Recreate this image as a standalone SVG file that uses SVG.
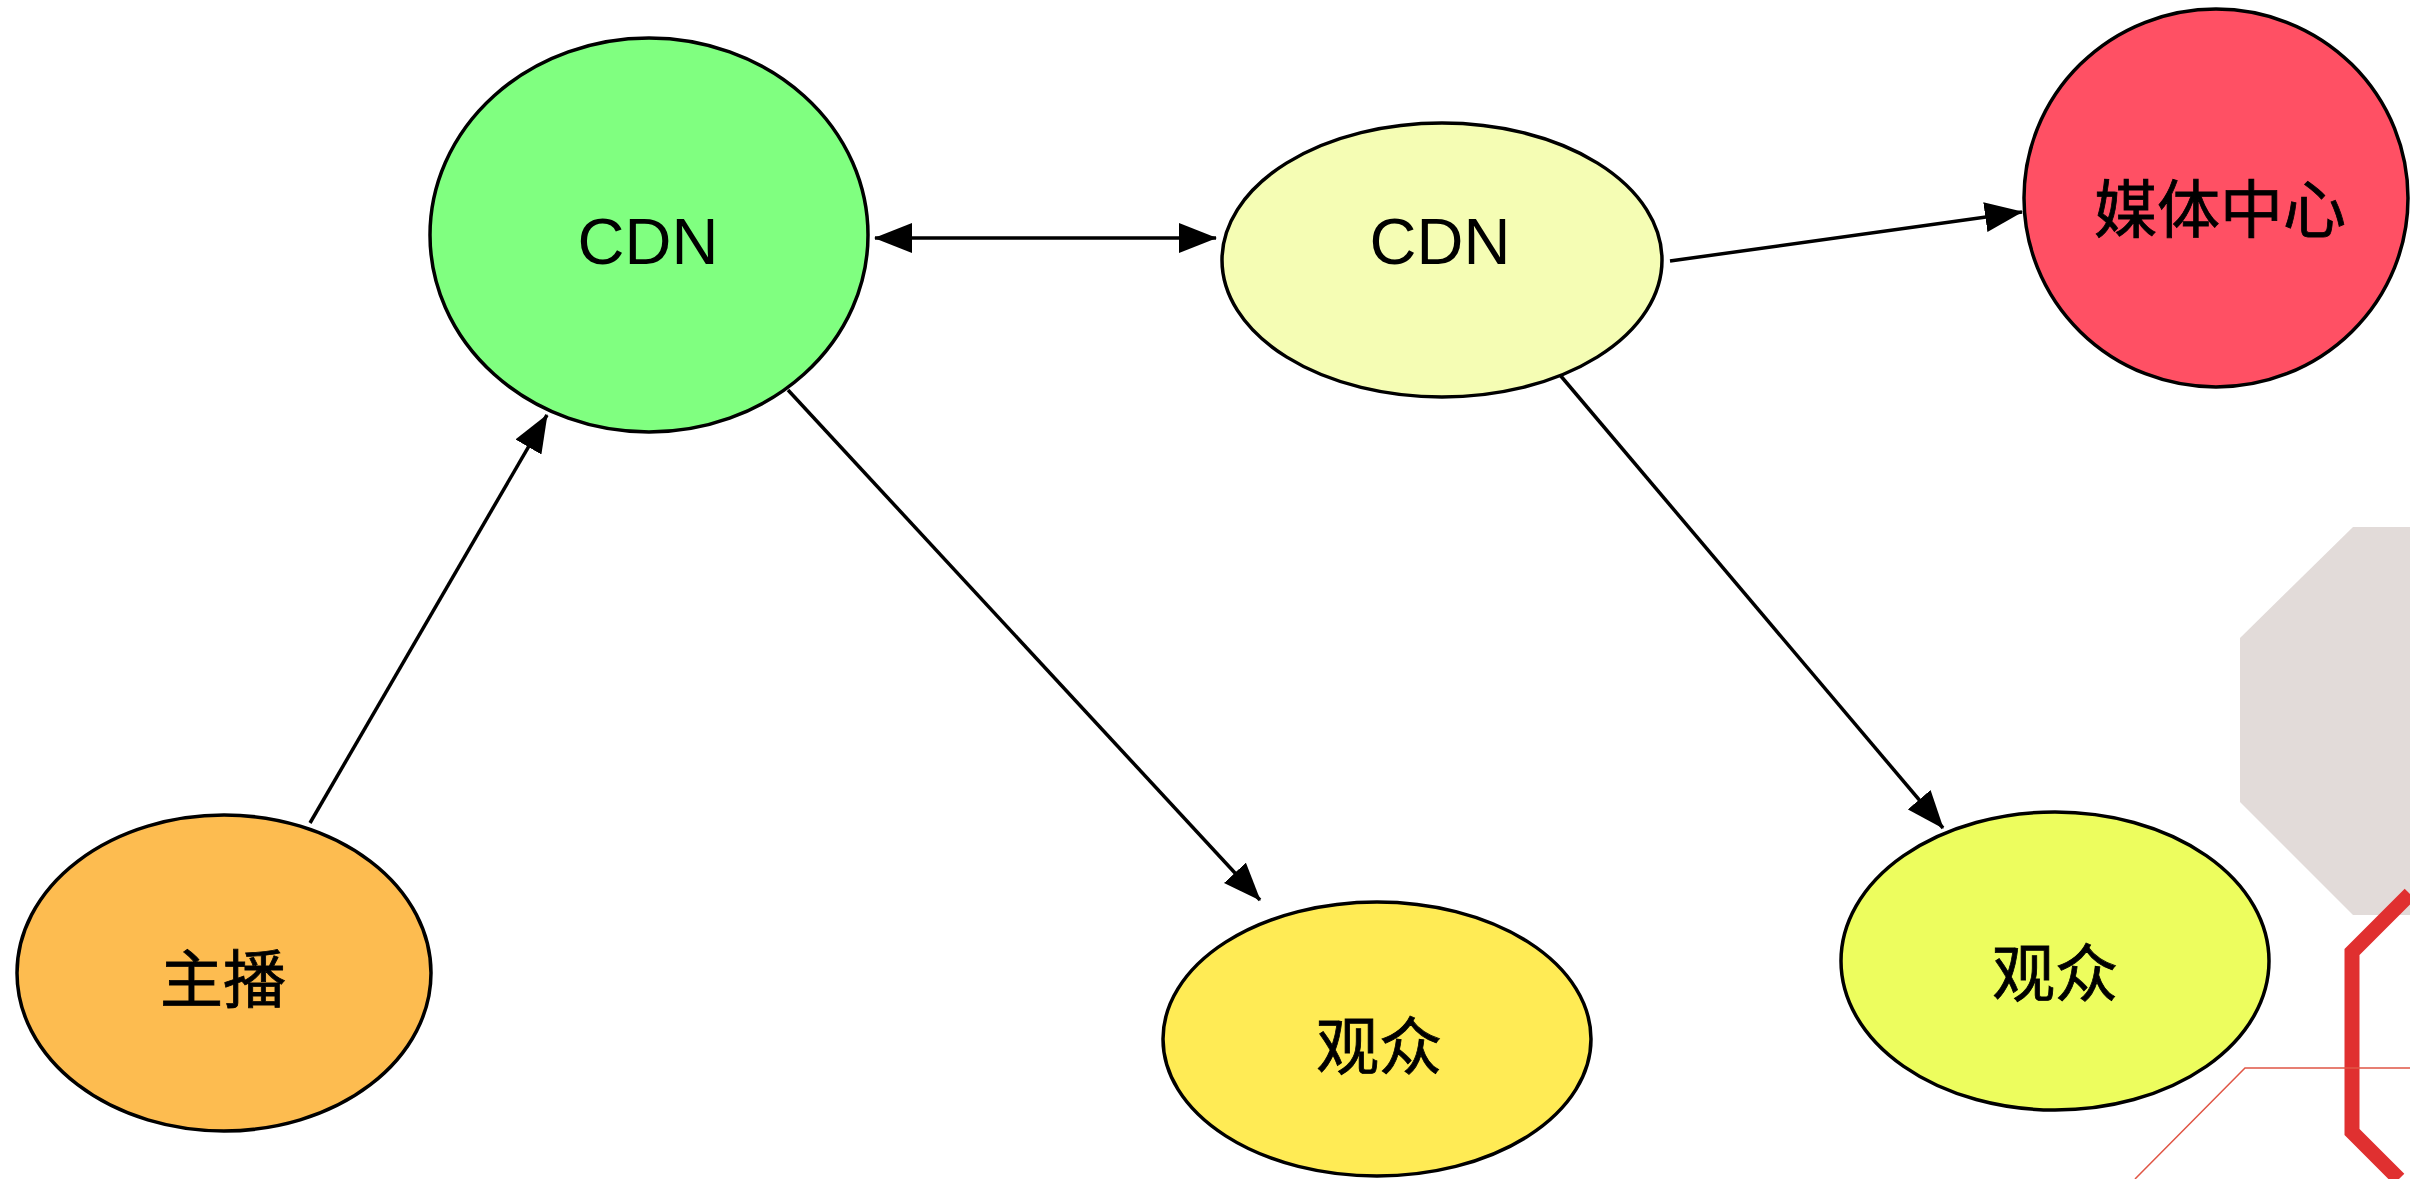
<svg xmlns="http://www.w3.org/2000/svg" width="2410" height="1179" viewBox="0 0 2410 1179">
<defs>
<style>
.node ellipse{stroke:#000;stroke-width:3.5}
.lbl{font-family:"Liberation Sans","Noto Sans CJK SC",sans-serif;font-size:65px;fill:#000;text-anchor:middle}
.cjk{font-family:"Noto Sans CJK SC","Liberation Sans",sans-serif;font-size:63px;fill:#000;stroke:#000;stroke-width:0.8;text-anchor:middle;dominant-baseline:central}
.edge{stroke:#000;stroke-width:3.5;fill:none}
</style>
<marker id="arr" viewBox="0 0 38 30" refX="37" refY="15" markerWidth="38" markerHeight="30" markerUnits="userSpaceOnUse" orient="auto-start-reverse">
<path d="M0,0 L38,15 L0,30 z" fill="#000"/>
</marker>
</defs>
<rect width="2410" height="1179" fill="#fff"/>
<g id="decoration">
<path d="M2353,527 L2410,527 L2410,915 L2353,915 L2240,802 L2240,638 z" fill="#E2DBD9"/>
<path d="M2410,894 L2352,952 L2352,1132 L2399,1179" fill="none" stroke="#E03030" stroke-width="15"/>
<path d="M2135,1179 L2245,1068 L2410,1068" fill="none" stroke="#E05545" stroke-width="1.5"/>
</g>
<g id="connectors">
<line class="edge" x1="875" y1="238" x2="1216" y2="238" marker-start="url(#arr)" marker-end="url(#arr)"/>
<line class="edge" x1="1670" y1="261" x2="2022" y2="212" marker-end="url(#arr)"/>
<line class="edge" x1="310" y1="823" x2="547" y2="415" marker-end="url(#arr)"/>
<line class="edge" x1="788" y1="390" x2="1260" y2="900" marker-end="url(#arr)"/>
<line class="edge" x1="1560" y1="375" x2="1943" y2="828" marker-end="url(#arr)"/>
</g>
<g id="cdn1" class="node">
<ellipse cx="649" cy="235" rx="219" ry="197" fill="#80FF80"/>
<text class="lbl" x="648" y="264">CDN</text>
</g>
<g id="cdn2" class="node">
<ellipse cx="1442" cy="260" rx="220" ry="137" fill="#F5FDB4"/>
<text class="lbl" x="1440" y="264">CDN</text>
</g>
<g id="media" class="node">
<ellipse cx="2216" cy="198" rx="192" ry="189" fill="#FF5064"/>
<text class="cjk" x="2220" y="204">媒体中心</text>
</g>
<g id="anchor" class="node">
<ellipse cx="224" cy="973" rx="207" ry="158" fill="#FDBC50"/>
<text class="cjk" x="223" y="974">主播</text>
</g>
<g id="viewer1" class="node">
<ellipse cx="1377" cy="1039" rx="214" ry="137" fill="#FFEB55"/>
<text class="cjk" x="1379" y="1041">观众</text>
</g>
<g id="viewer2" class="node">
<ellipse cx="2055" cy="961" rx="214" ry="149" fill="#EDFD5E"/>
<text class="cjk" x="2055" y="968">观众</text>
</g>
</svg>
